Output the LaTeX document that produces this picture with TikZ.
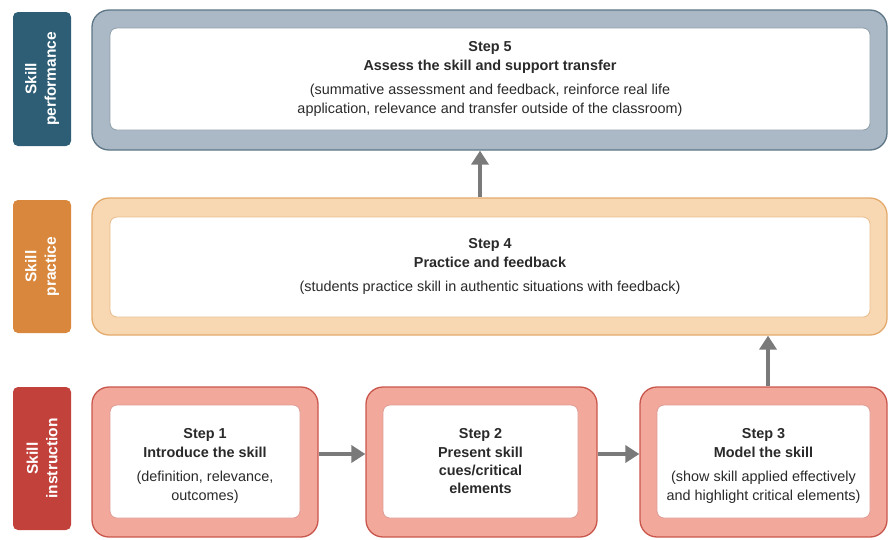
\documentclass[tikz,border=0pt]{standalone}
\usepackage{fontspec}
\setmainfont{Liberation Sans}
\usetikzlibrary{positioning, arrows.meta}
\definecolor{perfdark}{HTML}{2D5E75}
\definecolor{perfframe}{HTML}{AAB9C5}
\definecolor{perfline}{HTML}{5E7686}
\definecolor{pracdark}{HTML}{D8873C}
\definecolor{pracframe}{HTML}{F7D8B3}
\definecolor{pracline}{HTML}{E3AA6C}
\definecolor{instdark}{HTML}{C3413B}
\definecolor{instframe}{HTML}{F2A99B}
\definecolor{instline}{HTML}{C9564C}
\definecolor{arrowgray}{HTML}{7A7A7A}
\definecolor{inkgray}{HTML}{2A2A2A}
\tikzset{
  phase/.style = {
      rectangle,
      rounded corners=5pt,
      rotate=90,
      text=white,
      align=center,
      minimum height=58pt,
      font=\fontsize{15.5}{19.5}\selectfont\bfseries
  },
  frame/.style = {
      rectangle,
      draw,
      line width=1.3pt,
      rounded corners=17pt,
      inner sep=0pt
  },
  card/.style = {
      rectangle,
      draw,
      fill=white,
      line width=0.8pt,
      rounded corners=7pt,
      align=center,
      inner sep=0pt,
      text=inkgray,
      font=\fontsize{14.4}{19}\selectfont
  },
  flow/.style = {
      draw=arrowgray,
      line width=3.6pt,
      -{Triangle[length=14pt,width=17pt]}
  }
}

\begin{document}
\begin{tikzpicture}[x=1pt,y=-1pt]
        \useasboundingbox (0,0) rectangle (888,539);
        % Phase labels
        \node[phase, fill=perfdark, minimum width=134pt] (perf) at (42,79) {Skill\\performance};
        \node[phase, fill=pracdark, minimum width=133pt] (prac) at (42,266.5) {Skill\\practice};
        \node[phase, fill=instdark, minimum width=143pt] (inst) at (42,458.5) {Skill\\instruction};
        % Frames
        \node[frame, fill=perfframe, draw=perfline, minimum width=795pt, minimum height=140pt] (s5o) at (489.5,80) {};
        \node[frame, fill=pracframe, draw=pracline, minimum width=795pt, minimum height=137pt] (s4o) at (489.5,266.5) {};
        \node[frame, fill=instframe, draw=instline, minimum width=226pt, minimum height=150pt] (s1o) at (205,462) {};
        \node[frame, fill=instframe, draw=instline, minimum width=231pt, minimum height=150pt] (s2o) at (481.5,462) {};
        \node[frame, fill=instframe, draw=instline, minimum width=247pt, minimum height=150pt] (s3o) at (763.5,462) {};
        % Cards
        \node[card, draw=perfline!70, minimum width=760pt, minimum height=102pt] (s5) at (490,79)
            {\textbf{Step 5}\\\textbf{Assess the skill and support transfer}\\[5pt]
             (summative assessment and feedback, reinforce real life\\
             application, relevance and transfer outside of the classroom)};
        \node[card, draw=pracline!80, minimum width=760pt, minimum height=100pt] (s4) at (490,267)
            {\textbf{Step 4}\\\textbf{Practice and feedback}\\[5pt]
             (students practice skill in authentic situations with feedback)\\[-14pt]\mbox{}};
        \node[card, draw=instline!60, minimum width=190pt, minimum height=113pt] (s1) at (205,461.5)
            {\mbox{}\\\textbf{Step 1}\\\textbf{Introduce the skill}\\[5pt]
             (definition, relevance,\\outcomes)};
        \node[card, draw=instline!60, minimum width=195pt, minimum height=113pt] (s2) at (480.5,461.5)
            {\textbf{Step 2}\\\textbf{Present skill}\\[-1pt]\textbf{cues/critical}\\[-1pt]\textbf{elements}};
        \node[card, draw=instline!60, minimum width=213pt, minimum height=113pt] (s3) at (763.5,461.5)
            {\mbox{}\\\textbf{Step 3}\\\textbf{Model the skill}\\[5pt]
             (show skill applied effectively\\and highlight critical elements)};
        % Arrows
        \draw[flow] ([xshift=-9.5pt]s4o.north) -- ([xshift=-9.5pt]s5o.south);
        \draw[flow] ([xshift=4.5pt]s3o.north) -- ([xshift=4.5pt]s3o.north |- s4o.south);
        \draw[flow] ([yshift=8pt]s1o.east) -- ([yshift=8pt]s2o.west);
        \draw[flow] ([yshift=8pt]s2o.east) -- ([yshift=8pt]s3o.west);
    \end{tikzpicture}
\end{document}
